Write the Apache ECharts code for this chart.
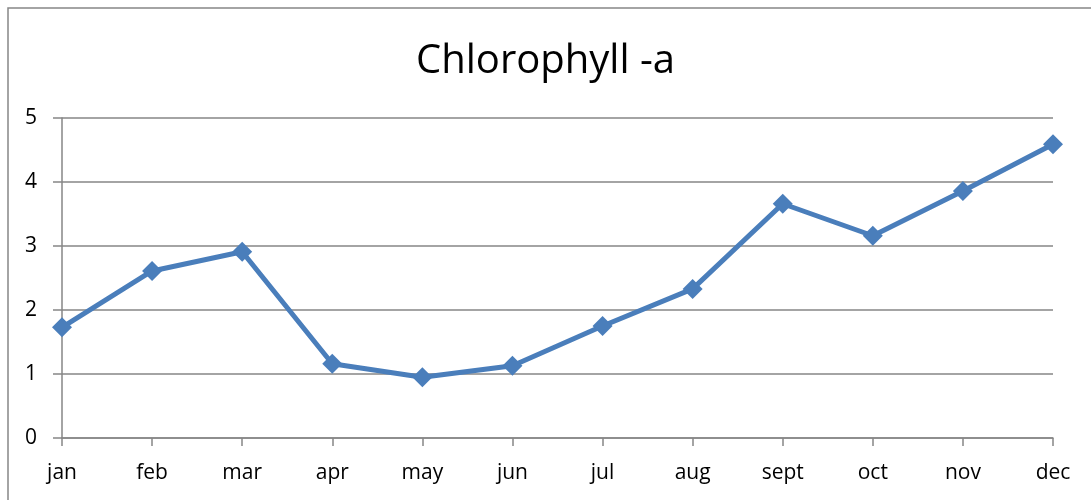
<!DOCTYPE html>
<html>
<head>
<meta charset="utf-8">
<script src="https://cdn.jsdelivr.net/npm/echarts@6/dist/echarts.min.js"></script>
<style>
html,body{margin:0;padding:0;background:#fff;}
#chart{width:1091px;height:500px;}
</style>
</head>
<body>
<div id="chart"></div>
<script>
const categories = ['jan','feb','mar','apr','may','jun','jul','aug','sept','oct','nov','dec'];
const chlorophyllValues = [1.73, 2.61, 2.91, 1.16, 0.95, 1.13, 1.75, 2.33, 3.66, 3.16, 3.86, 4.59];
const titleText = 'Chlorophyll -a';

const chart = echarts.init(document.getElementById('chart'));
const font = '"Open Sans", "Noto Sans", sans-serif';
chart.setOption({
  animation: false,
  backgroundColor: '#ffffff',
  graphic: [{
    type: 'rect',
    shape: {x: 8, y: 8, width: 1200, height: 600},
    style: {fill: 'none', stroke: '#868686', lineWidth: 1.5},
    silent: true
  }],
  title: {
    text: titleText,
    left: 'center',
    top: 37,
    textStyle: {fontFamily: font, fontSize: 40, fontWeight: 'normal', color: '#000'}
  },
  grid: {left: 62, right: 38, top: 118, bottom: 62, containLabel: false},
  xAxis: {
    type: 'category',
    data: categories,
    boundaryGap: false,
    axisLine: {lineStyle: {color: '#868686', width: 1.5}},
    axisTick: {show: true, length: 8, inside: false, lineStyle: {color: '#868686', width: 1.5}},
    axisLabel: {fontFamily: font, fontSize: 21, color: '#000', margin: 25},
    splitLine: {show: false}
  },
  yAxis: {
    type: 'value',
    min: 0, max: 5, interval: 1,
    axisLine: {show: true, lineStyle: {color: '#868686', width: 1.5}},
    axisTick: {show: true, length: 9, lineStyle: {color: '#868686', width: 1.5}},
    axisLabel: {fontFamily: font, fontSize: 21, color: '#000', margin: 25},
    splitLine: {show: true, lineStyle: {color: '#868686', width: 1.5}}
  },
  series: [{
    type: 'line',
    data: chlorophyllValues,
    symbol: 'diamond',
    symbolSize: 20,
    lineStyle: {color: '#4a7ebb', width: 5},
    itemStyle: {color: '#4a7ebb'}
  }]
});
</script>
</body>
</html>
